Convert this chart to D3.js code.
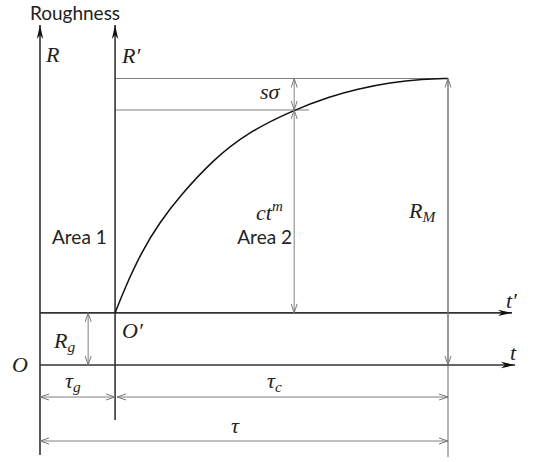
<!DOCTYPE html>
<html lang="en">
<head>
<meta charset="UTF-8">
<title>Roughness growth</title>
<script src="https://d3js.org/d3.v7.min.js"></script>
<style>
  body { margin: 0; background: #fff; }
  .sans { font-family: Lato, "Open Sans", sans-serif; fill: #222; }
  .math { font-family: "Liberation Serif", serif; font-style: italic; fill: #222; }
</style>
</head>
<body>
<div id="chart"></div>
<script>
// roughness curve (t in % of tau, R in % of R_M)
const curveT = [18.4, 20.8, 25.0, 29.4, 34.3, 42.4, 50.7, 62.1, 71.1, 77.7, 85.8, 93.9, 100];
const curveR = [18.2, 26.9, 39.8, 49.9, 59.0, 71.6, 81.0, 89.0, 93.7, 96.3, 98.6, 99.8, 100];

// key levels
const tauG = 18.4;     // start of area 2
const tau = 100;       // end
const Rg = 18.2;       // roughness at O'
const RM = 100;        // max roughness
const Rsig = 89;       // RM - s*sigma

const width = 535, height = 462;

const x = d3.scaleLinear().domain([0, 100]).range([40, 448]);
const y = d3.scaleLinear().domain([0, 100]).range([365, 78.5]);

const svg = d3.select("#chart").append("svg")
    .attr("width", width)
    .attr("height", height);

const defs = svg.append("defs");
// filled axis arrow
defs.append("marker")
    .attr("id", "axHead")
    .attr("markerUnits", "userSpaceOnUse")
    .attr("viewBox", "-15 -4 16 8")
    .attr("markerWidth", 16).attr("markerHeight", 8)
    .attr("refX", 0).attr("refY", 0)
    .attr("orient", "auto")
    .append("path")
    .attr("d", "M0,0 L-14,-3.2 L-10,0 L-14,3.2 Z")
    .attr("fill", "#111");
// open dimension arrow
defs.append("marker")
    .attr("id", "dimHead")
    .attr("markerUnits", "userSpaceOnUse")
    .attr("viewBox", "-10 -4 11 8")
    .attr("markerWidth", 11).attr("markerHeight", 8)
    .attr("refX", 0).attr("refY", 0)
    .attr("orient", "auto-start-reverse")
    .append("path")
    .attr("d", "M-9,-3 L0,0 L-9,3")
    .attr("fill", "none")
    .attr("stroke", "#777")
    .attr("stroke-width", 1);

const axisColor = "#333", dimColor = "#808080";

function line(x1, y1, x2, y2, color, w) {
    return svg.append("line")
        .attr("x1", x1).attr("y1", y1).attr("x2", x2).attr("y2", y2)
        .attr("stroke", color).attr("stroke-width", w);
}
function dim(x1, y1, x2, y2) {
    line(x1, y1, x2, y2, dimColor, 1)
        .attr("marker-start", "url(#dimHead)")
        .attr("marker-end", "url(#dimHead)");
}

// reference lines
line(x(tauG), y(RM), x(tau), y(RM), dimColor, 1.2);
line(x(tauG), y(Rsig), x(65.9), y(Rsig), dimColor, 1.2);
// R_M extension line
line(x(tau), y(RM), x(tau), 457, dimColor, 1.2);

// axes
line(x(0), 455, x(0), 25, axisColor, 1.6).attr("marker-end", "url(#axHead)");
line(x(tauG), 420, x(tauG), 25, axisColor, 1.6).attr("marker-end", "url(#axHead)");
line(x(0), y(Rg), 512, y(Rg), axisColor, 1.6).attr("marker-end", "url(#axHead)");
line(x(0), y(0), 515, y(0), axisColor, 1.6).attr("marker-end", "url(#axHead)");

// curve
svg.append("path")
    .datum(d3.zip(curveT, curveR))
    .attr("d", d3.line().x(d => x(d[0])).y(d => y(d[1])).curve(d3.curveBasis))
    .attr("fill", "none")
    .attr("stroke", "#111")
    .attr("stroke-width", 1.5);

// dimension arrows
dim(x(62.3), y(RM), x(62.3), y(Rsig));
dim(x(62.3), y(Rsig), x(62.3), y(Rg));
dim(x(tau), y(RM), x(tau), y(0));
dim(x(11.8), y(Rg), x(11.8), y(0));
dim(x(0), 397, x(tauG), 397);
dim(x(tauG) + 2, 397, x(tau), 397);
dim(x(0), 441, x(tau), 441);

// labels
function txt(cls, px, py, s, size, anchor) {
    return svg.append("text").attr("class", cls)
        .attr("x", px).attr("y", py)
        .attr("font-size", size)
        .attr("text-anchor", anchor || "start")
        .text(s);
}
function sub(px, py, main, s, size) {
    const t = txt("math", px, py, main, size);
    t.append("tspan").attr("font-size", size * 0.7).attr("dy", 4).text(s);
    return t;
}

txt("sans", 75, 20, "Roughness", 19, "middle");
txt("sans", 52, 244, "Area 1", 19);
txt("sans", 292, 244, "Area 2", 19, "end");

txt("math", 46, 62, "R", 22);
txt("math", 122, 63, "R\u2032", 22);
txt("math", 260, 99, "s\u03C3", 22);
const ct = txt("math", 256, 220, "ct", 22);
ct.append("tspan").attr("font-size", 15).attr("dy", -9).text("m");
sub(409, 218, "R", "M", 22);
sub(54, 348, "R", "g", 22);
txt("math", 122, 338, "O\u2032", 22);
txt("math", 12, 372, "O", 22);
sub(65, 388, "\u03C4", "g", 22);
sub(267, 388, "\u03C4", "c", 22);
txt("math", 231, 433, "\u03C4", 22);
txt("math", 506, 308, "t\u2032", 22);
txt("math", 510, 360, "t", 22);
</script>
</body>
</html>
